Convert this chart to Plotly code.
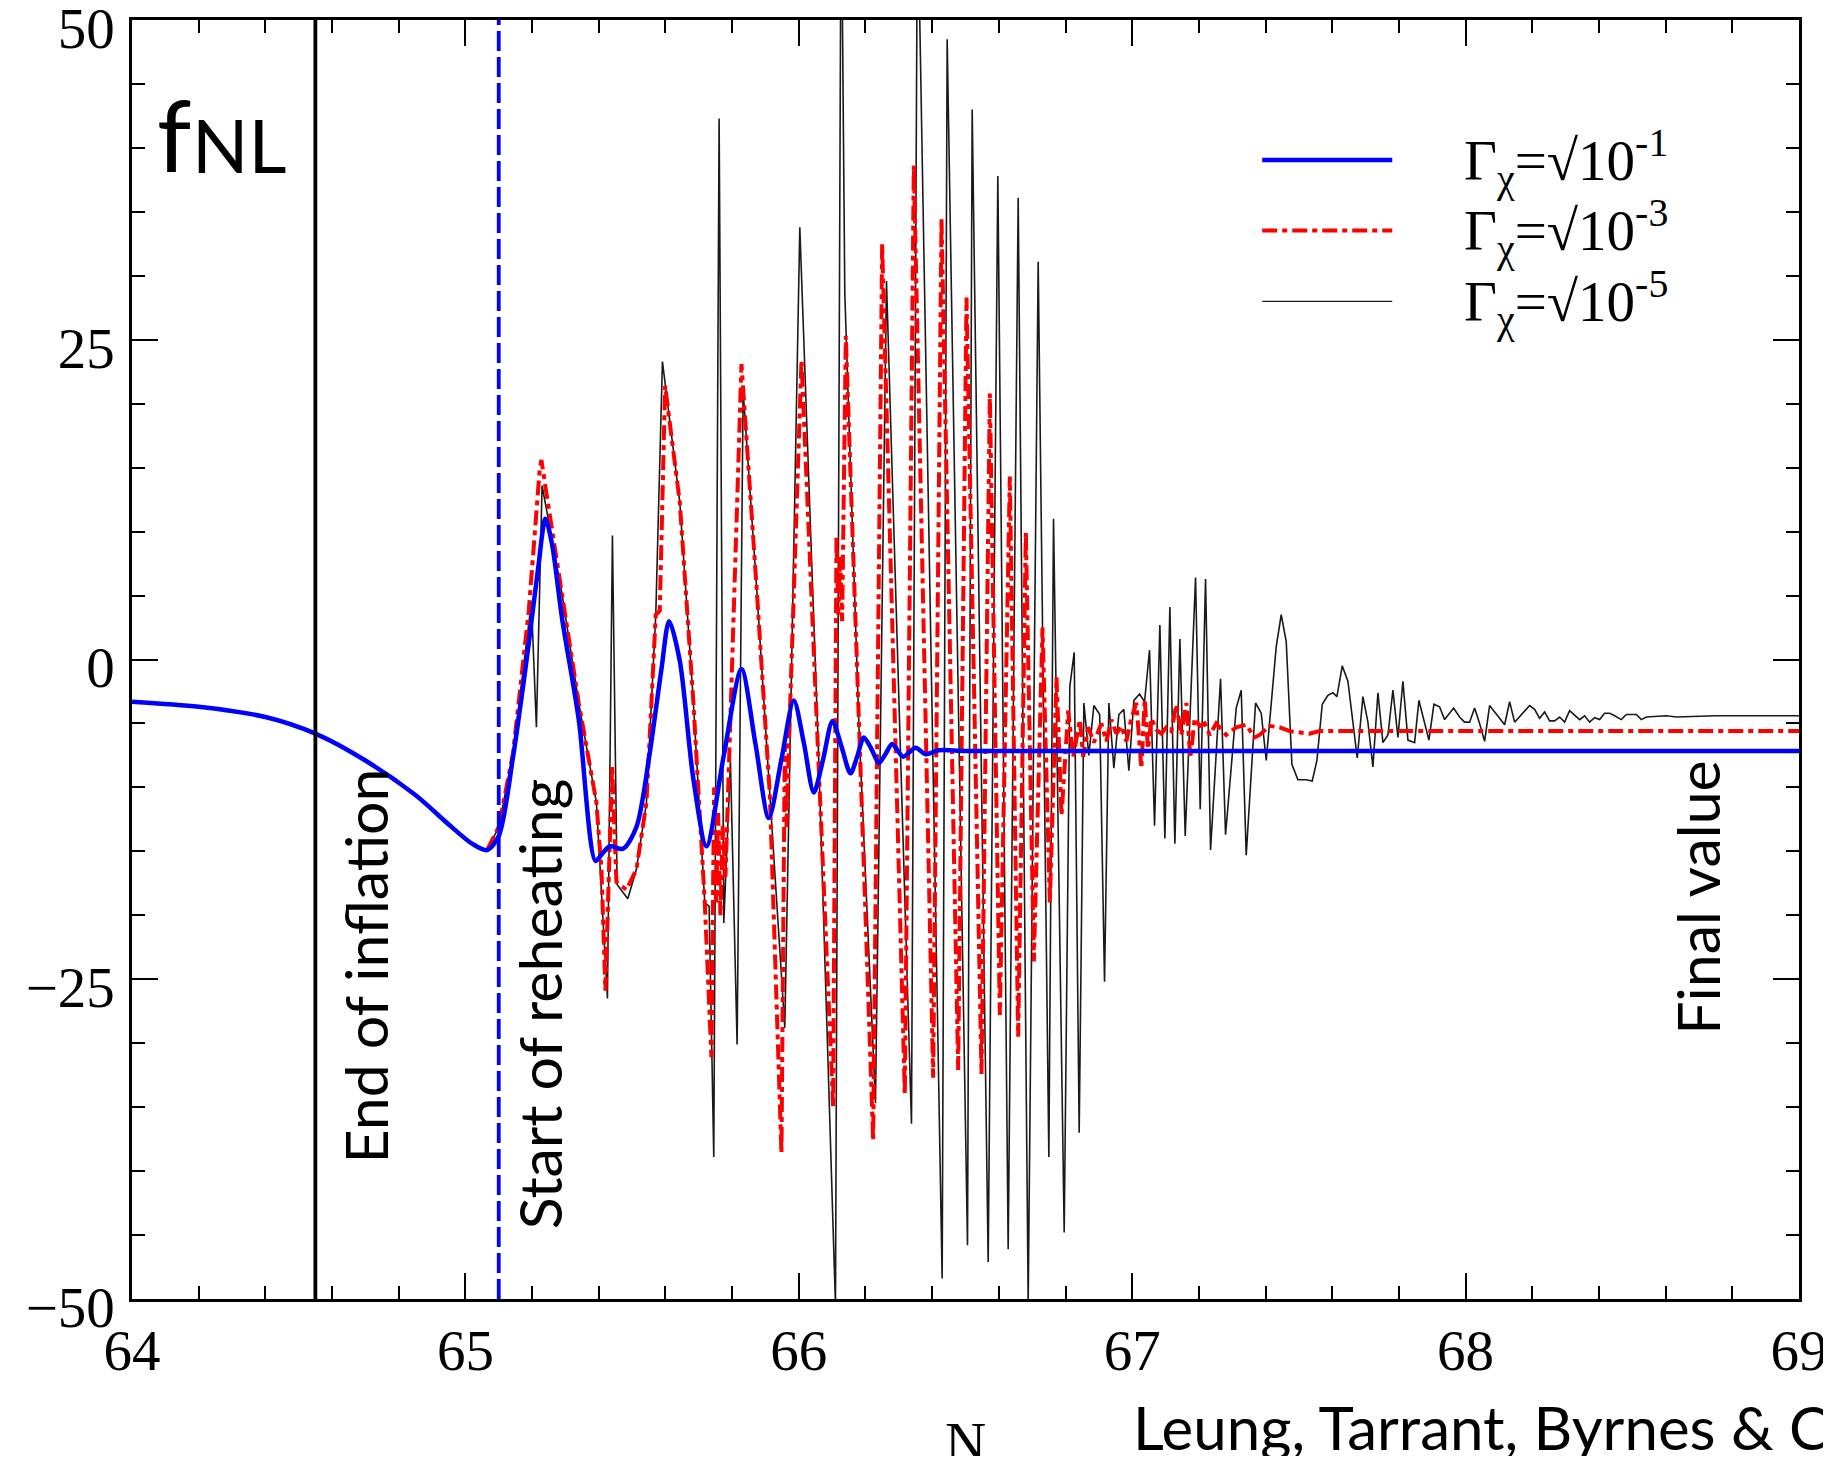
import plotly.graph_objects as go

# f_NL vs number of e-folds N for three decay rates
n_blue = [64.0, 64.2, 64.4, 64.55, 64.7, 64.85, 64.95, 65.02, 65.065, 65.10, 65.143, 65.173,
          65.193, 65.218, 65.24, 65.26, 65.29, 65.34, 65.39, 65.41, 65.433, 65.473, 65.513,
          65.553, 65.588, 65.611, 65.643, 65.683, 65.723, 65.775, 65.828, 65.87, 65.91, 65.948,
          65.985, 66.015, 66.045, 66.073, 66.101, 66.128, 66.155, 66.175, 66.195, 66.218, 66.24,
          66.26, 66.28, 66.313, 66.35, 66.38, 66.42, 66.5, 67.0, 68.0, 69.0]
f_blue = [-3.3, -3.7, -4.5, -5.8, -7.9, -10.6, -12.9, -14.4, -14.9, -13.8, -7.6, -2.1,
          1.9, 7.1, 11.0, 9.0, 3.2, -4.7, -15.75, -15.2, -14.6, -14.8, -13.1,
          -7.3, -0.75, 3.0, -0.1, -9.2, -14.6, -7.5, -0.75, -6.6, -12.4, -7.8,
          -3.2, -6.5, -10.4, -7.8, -4.8, -6.8, -8.9, -7.6, -6.1, -7.0, -8.1,
          -7.4, -6.6, -7.6, -6.9, -7.4, -7.1, -7.15, -7.15, -7.15, -7.15]

n_red = [65.065, 65.10, 65.143, 65.19, 65.223, 65.228, 65.243, 65.29, 65.34, 65.393, 65.408,
         65.42, 65.43, 65.44, 65.453, 65.483, 65.513, 65.543, 65.571, 65.583, 65.599, 65.643,
         65.683, 65.718, 65.738, 65.746, 65.752, 65.758, 65.765, 65.772, 65.78, 65.828, 65.873,
         65.913, 65.948, 65.958, 65.963, 65.971, 66.008, 66.06, 66.103, 66.113, 66.118, 66.124,
         66.13, 66.141, 66.18, 66.223, 66.25, 66.318, 66.345, 66.403, 66.428, 66.478, 66.503,
         66.548, 66.573, 66.603, 66.633, 66.658, 66.681, 66.705, 66.731, 66.753, 66.773, 66.788,
         66.808, 66.823, 66.843, 66.853, 66.868, 66.885, 66.9075, 66.9225, 66.9375, 66.9525,
         66.9675, 66.9825, 66.9975, 67.0125, 67.0275, 67.0375, 67.0475, 67.0575, 67.0725,
         67.0875, 67.1025, 67.1175, 67.1325, 67.1475, 67.1625, 67.1745, 67.1875, 67.2025,
         67.2175, 67.2325, 67.252, 67.282, 67.312, 67.342, 67.367, 67.382, 67.412, 67.442,
         67.472, 67.532, 67.562, 67.6, 68.0, 69.0]
f_red = [-14.9, -13.1, -7.3, 3.8, 14.9, 15.6, 13.0, 5.1, -3.4, -11.2, -16.4,
         -25.9, -17.1, -8.3, -17.4, -18.0, -16.4, -11.2, 3.5, 3.8, 21.4, 12.3,
         -3.0, -19.0, -31.1, -10.0, -19.0, -12.0, -20.0, -13.0, -17.0, 23.1, 5.8,
         -10.5, -38.6, -6.6, -13.1, -6.0, 23.4, -8.0, -35.0, 9.7, 3.5, 8.0,
         3.0, 25.3, -5.0, -37.6, 32.5, -34.0, 38.7, -32.7, 34.5, -32.1, 28.3,
         -32.4, 20.8, -27.8, 14.3, -29.5, 10.0, -23.6, 2.5, -19.0, -1.4, -12.2,
         -4.0, -7.6, -4.7, -7.6, -5.3, -6.5, -5.0, -6.4, -4.7, -5.8,
         -5.2, -6.4, -4.6, -3.4, -8.5, -3.1, -7.0, -4.6, -5.5,
         -5.8, -5.3, -5.6, -3.5, -5.9, -3.4, -7.7, -4.6, -5.2,
         -5.0, -5.9, -5.0, -5.9, -5.3, -5.1, -6.1, -5.9, -5.2, -5.3,
         -5.6, -5.8, -5.6, -5.6, -5.6, -5.6]

n_black = [65.065, 65.10, 65.143, 65.198, 65.213, 65.23, 65.29, 65.34, 65.393, 65.426, 65.441,
           65.455, 65.487, 65.513, 65.543, 65.571, 65.591, 65.643, 65.683, 65.718, 65.731, 65.745,
           65.761, 65.775, 65.795, 65.815, 65.833, 65.873, 65.913, 65.958, 66.003, 66.06, 66.11,
           66.127, 66.138, 66.18, 66.23, 66.263, 66.338, 66.356, 66.43, 66.445, 66.506, 66.52,
           66.568, 66.597, 66.628, 66.658, 66.688, 66.718, 66.75, 66.764, 66.796, 66.813, 66.826,
           66.841, 66.855, 66.87, 66.885, 66.9025, 66.917, 66.93, 66.945, 66.96, 66.975, 66.99,
           67.005, 67.022, 67.037, 67.052, 67.067, 67.083, 67.098, 67.113, 67.128, 67.143, 67.159,
           67.19, 67.204, 67.22, 67.235, 67.265, 67.28, 67.312, 67.327, 67.342, 67.37, 67.387,
           67.402, 67.432, 67.447, 67.462, 67.479, 67.497, 67.522, 67.54, 67.554, 67.57, 67.587,
           67.602, 67.614, 67.63, 67.647, 67.675, 67.692, 67.707, 67.722, 67.737, 67.752, 67.767,
           67.782, 67.797, 67.812, 67.827, 67.847, 67.86, 67.89, 67.905, 67.922, 67.937, 67.964,
           67.982, 67.997, 68.012, 68.027, 68.042, 68.057, 68.072, 68.102, 68.117, 68.132, 68.147,
           68.192, 68.207, 68.222, 68.237, 68.252, 68.267, 68.282, 68.297, 68.312, 68.342, 68.357,
           68.372, 68.387, 68.402, 68.417, 68.432, 68.447, 68.467, 68.482, 68.512, 68.527, 68.542,
           68.602, 68.632, 68.75, 69.0]
f_black = [-14.9, -13.1, -7.3, 4.5, -5.3, 13.6, 5.1, -3.4, -11.2, -26.5, 9.7,
           -17.6, -18.7, -16.4, -11.2, 3.5, 23.3, 12.3, -3.0, -19.0, -19.3, -38.9,
           42.3, -20.6, -8.0, -30.1, 21.0, 5.8, -10.5, -28.8, 33.8, -8.0, -50.5,
           62.0, 28.6, -5.0, -34.7, 29.6, -36.3, 60.0, -48.4, 48.5, -45.8, 43.0,
           -47.1, 37.8, -46.1, 36.1, -50.3, 31.1, -38.9, 11.0, -44.8, -2.1, 0.55,
           -37.0, -3.4, -7.5, -3.6, -4.3, -25.2, -3.4, -8.5, -4.3, -3.9, -8.7,
           -3.2, -2.7, -3.3, 0.73, -13.0, 2.7, -14.0, 4.1, -14.4, 1.6, -13.8,
           6.4, -11.7, 6.3, -14.9, -1.5, -13.7, -3.8, -2.4, -15.3, -3.4, -4.2,
           -7.9, 1.0, 3.5, 1.4, -8.2, -9.4, -9.4, -9.5, -7.9, -3.5, -2.8,
           -2.6, -2.9, -0.5, -1.7, -7.7, -2.9, -4.9, -8.4, -2.6, -6.5, -5.9,
           -2.4, -6.1, -1.7, -6.3, -6.5, -3.2, -6.3, -3.5, -3.7, -4.7, -3.8,
           -4.5, -4.9, -4.9, -3.8, -5.0, -6.4, -3.6, -4.6, -5.1, -3.3, -4.9,
           -3.6, -3.9, -4.6, -4.1, -4.8, -4.8, -4.5, -4.9, -4.0, -4.7, -4.4,
           -4.9, -4.55, -4.7, -4.2, -4.2, -4.4, -4.7, -4.3, -4.3, -4.7, -4.5,
           -4.4, -4.5, -4.4, -4.4]

end_inflation = 64.55
start_reheating = 65.10

legend_labels = ["Γ<sub>χ</sub>=√10<sup>-1</sup>",
                 "Γ<sub>χ</sub>=√10<sup>-3</sup>",
                 "Γ<sub>χ</sub>=√10<sup>-5</sup>"]

serif = "Liberation Serif, Times New Roman, serif"
sans = "Lato, Open Sans, sans-serif"
red_dash = "15px,5px,5px,5px"

fig = go.Figure()
fig.add_trace(go.Scatter(x=n_black, y=f_black, mode="lines",
                         line=dict(color="#1a1a1a", width=1.6)))
fig.add_trace(go.Scatter(x=n_red, y=f_red, mode="lines",
                         line=dict(color="#ff0000", width=4, dash=red_dash)))
fig.add_trace(go.Scatter(x=n_blue, y=f_blue, mode="lines",
                         line=dict(color="#0000ff", width=4.5, shape="spline", smoothing=0.8)))

# marker lines for end of inflation / start of reheating
fig.add_shape(type="line", x0=end_inflation, x1=end_inflation, y0=-50, y1=50,
              line=dict(color="black", width=3.8))
fig.add_shape(type="line", x0=start_reheating, x1=start_reheating, y0=-50, y1=50,
              line=dict(color="#0000ff", width=3.8, dash="20px,6px"))

# hand-made legend
leg_y = [39.05, 33.55, 28.0]
leg_styles = [dict(color="#0000ff", width=4.5),
              dict(color="#ff0000", width=4, dash=red_dash),
              dict(color="#1a1a1a", width=1.4)]
for yy, st, lab in zip(leg_y, leg_styles, legend_labels):
    fig.add_shape(type="line", x0=67.39, x1=67.78, y0=yy, y1=yy, line=st)
    fig.add_annotation(x=67.988, y=yy, text=lab, showarrow=False, xanchor="left",
                       yanchor="middle", font=dict(family=serif, size=57, color="black"))

rot_font = dict(family=sans, size=59, color="black")
fig.add_annotation(x=64.699, y=-24.0, text="End of inflation", textangle=-90,
                   showarrow=False, font=rot_font)
fig.add_annotation(x=65.223, y=-26.9, text="Start of reheating", textangle=-90,
                   showarrow=False, font=rot_font)
fig.add_annotation(x=68.693, y=-18.65, text="Final value", textangle=-90,
                   showarrow=False, font=rot_font)

# f_NL label
fig.add_annotation(x=0.0136, y=0.911, xref="paper", yref="paper", text="f",
                   showarrow=False, xanchor="left", yanchor="middle",
                   font=dict(family=sans, size=98, color="black"))
fig.add_annotation(x=0.0347, y=0.903, xref="paper", yref="paper", text="NL",
                   showarrow=False, xanchor="left", yanchor="middle",
                   font=dict(family=sans, size=74, color="black"))

# axis title and credit line
fig.add_annotation(x=0.5, y=-0.112, xref="paper", yref="paper", text="N",
                   showarrow=False, yanchor="middle",
                   font=dict(family=serif, size=57, color="black"))
fig.add_annotation(x=0.599, y=-0.1, xref="paper", yref="paper",
                   text="Leung, Tarrant, Byrnes & Copeland",
                   showarrow=False, xanchor="left", yanchor="middle",
                   font=dict(family=sans, size=60, color="black"))

axis_common = dict(showline=True, linecolor="black", linewidth=2.5, mirror="allticks",
                   ticks="inside", ticklen=26, tickwidth=2, tickcolor="black",
                   showgrid=False, zeroline=False, automargin=False,
                   ticklabeloverflow="allow",
                   tickfont=dict(family=serif, size=57, color="black"))
fig.update_xaxes(range=[64, 69], dtick=1, tick0=64,
                 minor=dict(dtick=0.2, ticks="inside", ticklen=13, tickwidth=2,
                            tickcolor="black", showgrid=False),
                 **axis_common)
fig.update_yaxes(range=[-50, 50], dtick=25, tick0=0, ticklabelshift=8,
                 ticklabelstandoff=3,
                 minor=dict(dtick=5, ticks="inside", ticklen=13, tickwidth=2,
                            tickcolor="black", showgrid=False),
                 **axis_common)

# page body keeps an 8px margin, so the figure is 16px smaller than the window
fig.update_layout(width=1815, height=1448, showlegend=False,
                  margin=dict(l=124, r=24, t=12, b=157),
                  paper_bgcolor="white", plot_bgcolor="white")

fig.write_html("out.html")
